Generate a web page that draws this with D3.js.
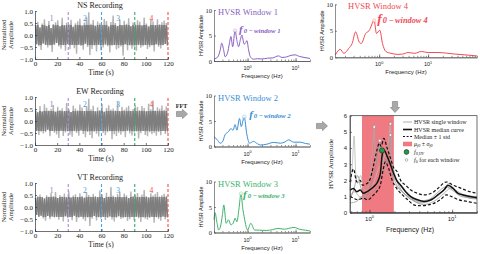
<!DOCTYPE html>
<html>
<head>
<meta charset="utf-8">
<script src="https://cdn.jsdelivr.net/npm/d3@7"></script>
<style>
  body { margin: 0; background: #fff; }
  svg { display: block; }
</style>
</head>
<body>
<svg id="chart" width="480" height="254"></svg>
<script>
// ---- recordings (normalized amplitude, one value per second) ----
const nsRecord = [
  0.42,-0.38,0.55,-0.47,0.31,-0.62,0.48,-0.35,0.66,-0.41,
  0.37,-0.52,0.58,-0.44,0.29,-0.71,0.46,-0.39,0.53,-0.33,
  0.61,-0.48,0.36,-0.57,0.72,-0.43,0.40,-0.66,0.51,-0.37,
  0.45,-0.59,0.63,-0.42,0.34,-0.55,0.49,-0.78,0.57,-0.40,
  0.68,-0.46,0.39,-0.61,0.52,-0.36,0.74,-0.50,0.95,-0.83,
  0.47,-0.58,0.62,-0.44,0.38,-0.69,0.56,-0.41,0.49,-0.64,
  0.43,-0.52,0.67,-0.39,0.58,-0.47,0.35,-0.73,0.54,-0.45,
  0.81,-0.42,0.50,-0.60,0.37,-0.55,0.64,-0.48,0.41,-0.86,
  0.59,-0.38,0.47,-0.63,0.70,-0.44,0.36,-0.57,0.52,-0.49,
  0.44,-0.66,0.61,-0.40,0.55,-0.53,0.39,-0.47,0.73,-0.42,
  0.48,-0.58,0.35,-0.51,0.62,-0.44,0.57,-0.69,0.41,-0.38,
  0.66,-0.49,0.45,-0.56,0.53,-0.43,0.60,-0.37,0.50,-0.46
]
const ewRecord = [
  0.48,-0.41,0.36,-0.58,0.62,-0.45,0.39,-0.52,0.70,-0.47,
  0.55,-0.36,0.44,-0.63,0.51,-0.42,0.67,-0.49,0.38,-0.56,
  0.59,-0.71,0.46,-0.40,0.53,-0.62,0.41,-0.48,0.75,-0.44,
  0.50,-0.57,0.37,-0.66,0.64,-0.43,0.52,-0.50,0.45,-0.61,
  0.69,-0.39,0.56,-0.54,0.42,-0.68,0.60,-0.46,0.93,-0.58,
  0.49,-0.72,0.63,-0.45,0.40,-0.53,0.57,-0.64,0.46,-0.41,
  0.71,-0.50,0.38,-0.59,0.54,-0.47,0.65,-0.43,0.48,-0.76,
  0.52,-0.55,0.44,-0.62,0.80,-0.49,0.41,-0.57,0.59,-0.45,
  0.47,-0.68,0.56,-0.40,0.63,-0.52,0.43,-0.60,0.50,-0.48,
  0.66,-0.44,0.58,-0.73,0.45,-0.51,0.62,-0.42,0.54,-0.58,
  0.40,-0.63,0.72,-0.47,0.49,-0.55,0.85,-0.50,0.44,-0.61,
  0.57,-0.46,0.51,-0.59,0.64,-0.42,0.47,-0.54,0.60,-0.49
]
const vtRecord = [
  0.38,-0.33,0.45,-0.40,0.52,-0.36,0.41,-0.48,0.35,-0.57,
  0.49,-0.37,0.43,-0.51,0.58,-0.39,0.46,-0.44,0.62,-0.41,
  0.37,-0.53,0.50,-0.42,0.44,-0.60,0.56,-0.38,0.40,-0.47,
  0.65,-0.43,0.39,-0.55,0.48,-0.36,0.53,-0.62,0.42,-0.45,
  0.57,-0.40,0.47,-0.51,0.38,-0.58,0.61,-0.44,0.50,-0.79,
  0.43,-0.49,0.55,-0.37,0.46,-0.56,0.41,-0.43,0.69,-0.48,
  0.52,-0.41,0.37,-0.54,0.59,-0.46,0.44,-0.39,0.83,-0.52,
  0.48,-0.60,0.42,-0.45,0.54,-0.38,0.63,-0.50,0.40,-0.47,
  0.56,-0.43,0.49,-0.58,0.37,-0.51,0.64,-0.42,0.46,-0.55,
  0.51,-0.40,0.58,-0.47,0.43,-0.62,0.52,-0.44,0.71,-0.49,
  0.45,-0.53,0.39,-0.46,0.57,-0.41,0.48,-0.66,0.54,-0.43,
  0.62,-0.50,0.44,-0.57,0.49,-0.39,0.55,-0.52,0.47,-0.45
]
const timeTicks = [0, 20, 40, 60, 80, 100, 120]
const ampTicks = [-1, -0.5, 0, 0.5, 1]
const windowEdges = [30, 60, 90, 120]
const windowNames = ['1', '2', '3', '4']

// ---- HVSR of each window ----
const w1Freq = [0.2,0.24,0.27,0.29,0.32,0.34,0.38,0.42,0.45,0.49,0.55,0.6,0.65,0.71,0.76,0.8,0.85,0.92,0.97,1.05,1.14,1.33,1.6,2,2.6,3.3,4.4,5.2,6.5,8,9.8,12,15,20]
const w1Amp  = [0.4,0.8,2.2,3.5,2.0,0.85,1.5,3.5,4.8,2.8,5.95,4.0,2.8,4.2,5.1,4.3,3.3,3.6,4.0,2.2,0.85,0.35,0.45,0.4,0.55,0.6,1.0,0.7,0.8,1.1,1.2,0.9,0.7,0.5]
const w2Freq = [0.2,0.23,0.27,0.3,0.34,0.4,0.45,0.5,0.55,0.6,0.68,0.74,0.85,0.97,1.1,1.33,1.6,1.84,2.5,3.5,4.9,6,7.2,9.1,12.5,16,20]
const w2Amp  = [1.9,1.4,0.65,0.9,2.3,2.9,3.5,3.2,4.3,3.2,5.5,3.9,5.8,2.3,0.65,1.0,0.55,0.3,0.45,0.8,0.65,0.9,1.3,0.85,0.85,0.6,0.45]
const w3Freq = [0.2,0.21,0.23,0.25,0.27,0.3,0.32,0.36,0.4,0.45,0.5,0.55,0.6,0.66,0.73,0.8,0.85,0.93,1.0,1.17,1.4,1.8,2.5,3.3,4.3,5.8,7.2,9.3,12,16,20]
const w3Amp  = [2.5,3.9,2.0,0.5,1.0,3.5,5.4,1.8,2.5,1.5,1.8,2.8,2.1,4.5,7.6,4.5,3.1,1.2,0.5,1.8,0.5,0.45,0.4,0.55,0.8,0.65,0.8,1.0,0.65,0.45,0.3]
const w4Freq = [0.127,0.16,0.19,0.24,0.28,0.33,0.39,0.43,0.53,0.62,0.79,0.88,1.03,1.17,1.37,1.75,2.4,3.0,3.9,5.3,7.3,10,16,36,68,100]
const w4Amp  = [0.45,1.5,0.75,1.7,2.6,4.8,2.9,2.6,4.5,5.0,6.9,4.5,5.1,2.6,1.1,0.75,0.55,0.6,0.9,0.75,1.1,0.9,0.9,0.6,0.4,0.25]

// ---- combined HVSR ----
const s1Freq = [0.58,0.65,0.75,0.85,0.95,1.05,1.1,1.14,1.18,1.25,1.35,1.45,1.6,1.8,2.0,2.4,3.0,4,5,6.5,8,9,11,14,20]
const s1Amp  = [1.0,1.3,1.0,0.9,1.5,3.0,4.5,5.3,3.0,3.5,4.2,3.3,2.5,2.2,1.8,1.4,0.9,0.7,0.8,1.0,1.4,1.8,1.3,1.1,1.0]
const s2Freq = [0.58,0.65,0.72,0.78,0.85,0.95,1.05,1.2,1.33,1.45,1.6,1.79,1.9,2.1,2.5,3,4,5,6.5,8.5,10,13,20]
const s2Amp  = [0.8,1.5,2.3,1.6,1.2,1.1,1.8,3.0,4.45,3.6,3.2,3.0,2.4,2.0,1.3,1.0,0.6,0.7,1.2,1.6,1.4,1.0,0.9]
const s3Freq = [0.58,0.62,0.65,0.68,0.72,0.78,0.85,1.0,1.15,1.3,1.45,1.6,1.72,1.79,1.85,2.0,2.3,2.8,3.5,4.5,6,7.5,9,11,15,20]
const s3Amp  = [1.5,3.0,4.75,2.5,1.8,2.3,1.5,1.3,2.0,2.8,3.2,4.0,4.6,5.5,3.5,2.5,1.8,1.2,0.8,0.6,0.9,1.3,1.6,1.4,1.0,0.9]
const s4Freq = [0.58,0.7,0.8,0.95,1.1,1.3,1.5,1.7,1.79,1.9,2.2,2.6,3.5,4.5,6,8,9.5,12,16,20]
const s4Amp  = [0.6,0.7,1.0,0.8,1.2,2.0,2.8,3.5,4.8,2.5,1.6,1.2,0.7,0.5,0.7,1.2,1.5,1.2,0.9,0.85]
const medFreq = [0.58,0.64,0.70,0.77,0.84,0.97,1.12,1.25,1.35,1.42,1.49,1.63,1.8,1.97,2.13,2.38,2.74,3.16,3.8,4.6,5.6,6.7,8.1,8.9,10.3,11.8,13.6,16.4,20]
const medAmp  = [1.4,1.5,1.3,1.4,1.2,1.35,1.6,1.9,2.4,3.55,3.9,3.5,2.95,2.4,2.0,1.7,1.3,1.0,0.8,0.7,0.8,1.1,1.45,1.7,1.5,1.2,1.1,1.0,0.93]
const upFreq = [0.58,0.64,0.70,0.77,0.82,0.93,1.02,1.12,1.22,1.31,1.38,1.49,1.63,1.8,1.97,2.15,2.38,2.74,3.16,3.8,4.6,5.6,6.7,8.5,10.3,13,16.4,20]
const upAmp  = [1.9,2.7,1.9,2.0,1.7,1.8,2.1,2.95,3.8,4.3,4.1,4.6,4.0,3.35,2.75,2.55,2.0,1.7,1.4,1.2,1.1,1.2,1.5,1.9,1.7,1.5,1.3,1.2]
const loFreq = [0.58,0.64,0.72,0.84,0.95,1.12,1.22,1.35,1.45,1.55,1.7,1.88,2.13,2.5,2.9,3.5,4.2,5.0,6.0,7.2,8.5,9.8,12,15,20]
const loAmp  = [1.0,0.9,0.8,0.9,0.8,1.1,1.3,1.7,2.55,3.15,2.75,2.0,1.5,1.1,0.8,0.47,0.43,0.47,0.58,0.8,1.1,1.0,0.8,0.7,0.58]
const peakFreq = [1.14, 1.33, 1.79, 1.79]
const peakAmp  = [5.3, 4.45, 5.5, 4.8]
const f0Median = [1.42, 3.85]
const f0Band = [0.81, 1.97]

const serif = '"Liberation Serif","Times New Roman",serif'
const sans = '"Liberation Sans",Arial,sans-serif'
const svg = d3.select('#chart')
const defs = svg.append('defs')

const zip = (fs, as) => fs.map((f, i) => [f, as[i]])

function blockArrow(cx, cy, dir) {
  const pts = [[-5.5,-2.6],[0.5,-2.6],[0.5,-4.6],[5.5,0],[0.5,4.6],[0.5,2.6],[-5.5,2.6]]
  const p = dir === 'down' ? pts.map(([a, b]) => [b, a]) : pts
  svg.append('polygon')
    .attr('points', p.map(([a, b]) => [cx + a, cy + b].join(',')).join(' '))
    .attr('fill', '#a8a8a8').attr('stroke', '#7c7c7c').attr('stroke-width', 0.6)
}

// ---------- left column: recordings ----------
function drawRecord(title, vals, top, id) {
  const x = d3.scaleLinear().domain([0, 120]).range([35, 168])
  const y = d3.scaleLinear().domain([-1, 1]).range([top + 48, top])
  const g = svg.append('g')
  const sig = d3.line().x((d, i) => x(i + 0.5)).y(d => y(d))

  // dense core of the record drawn darker than the spikes
  defs.append('clipPath').attr('id', id)
    .append('rect').attr('x', 30).attr('width', 145).attr('y', y(0.42)).attr('height', y(-0.42) - y(0.42))

  g.append('path').datum(vals).attr('d', sig)
    .attr('fill', 'none').attr('stroke', '#b4b4b4').attr('stroke-width', 1.4)
  g.append('path').datum(vals).attr('d', sig).attr('clip-path', `url(#${id})`)
    .attr('fill', 'none').attr('stroke', '#7e7e7e').attr('stroke-width', 1.4)

  const edgeCols = ['#a88bd6', '#4aa3e6', '#3aa86c', '#ee5050']
  const nameCols = ['#9474c8', '#3b9be0', '#3b9be0', '#e84848']
  windowEdges.forEach((t, k) => {
    g.append('line')
      .attr('x1', x(t)).attr('x2', x(t)).attr('y1', top + 1).attr('y2', top + 50)
      .attr('stroke', edgeCols[k]).attr('stroke-width', 1.1).attr('stroke-dasharray', '3,2')
    g.append('text').attr('x', x(t - 15)).attr('y', top + 10)
      .attr('text-anchor', 'middle').attr('font-family', serif).attr('font-size', 7.5)
      .attr('fill', nameCols[k]).text(windowNames[k])
  })

  const xa = g.append('g').attr('transform', `translate(0,${top + 48})`)
    .call(d3.axisBottom(x).tickValues(timeTicks).tickSizeInner(-2).tickSizeOuter(0).tickPadding(2))
  const ya = g.append('g').attr('transform', 'translate(35,0)')
    .call(d3.axisLeft(y).tickValues(ampTicks).tickFormat(d3.format('.1f')).tickSizeInner(-2).tickSizeOuter(0).tickPadding(2))
  ;[xa, ya].forEach(a => {
    a.selectAll('text').attr('font-family', serif).attr('font-size', 7).attr('fill', '#222')
    a.selectAll('line,path').attr('stroke', '#333').attr('stroke-width', 0.7)
  })

  g.append('text').attr('x', 100).attr('y', top - 3).attr('text-anchor', 'middle')
    .attr('font-family', serif).attr('font-size', 8).attr('fill', '#222').text(title)
  g.append('text').attr('x', 101).attr('y', top + 64).attr('text-anchor', 'middle')
    .attr('font-family', serif).attr('font-size', 7.5).attr('fill', '#222').text('Time (s)')
  const yl = g.append('text').attr('transform', `translate(6,${top + 24}) rotate(-90)`)
    .attr('text-anchor', 'middle').attr('font-family', serif).attr('font-size', 6.5).attr('fill', '#222')
  yl.append('tspan').attr('x', 0).attr('dy', 0).text('Normalized')
  yl.append('tspan').attr('x', 0).attr('dy', 7).text('Amplitude')
}

drawRecord('NS Recording', nsRecord, 11, 'coreNS')
drawRecord('EW Recording', ewRecord, 97, 'coreEW')
drawRecord('VT Recording', vtRecord, 183, 'coreVT')

// ---------- HVSR window panels ----------
function drawWindow(p, freqs, amps, color, k) {
  const x = d3.scaleLog().domain(p.dom).range([p.x0, p.x1])
  const y = d3.scaleLinear().domain([0, 10]).range([p.yb, p.yt])
  const g = svg.append('g')
  const pts = zip(freqs, amps)

  g.append('path').datum(pts)
    .attr('d', d3.line().x(d => x(d[0])).y(d => y(d[1])).curve(d3.curveMonotoneX))
    .attr('fill', 'none').attr('stroke', color).attr('stroke-width', 1)

  const pk = pts.reduce((a, b) => (b[1] > a[1] ? b : a))
  g.append('circle').attr('cx', x(pk[0])).attr('cy', y(pk[1])).attr('r', 1.8)
    .attr('fill', '#fff').attr('fill-opacity', 0.6).attr('stroke', color).attr('stroke-opacity', 0.5).attr('stroke-width', 0.6)

  const lab = g.append('text').attr('x', x(pk[0]) + p.lx).attr('y', y(pk[1]) + p.ly)
    .attr('font-family', serif).attr('font-weight', 'bold').attr('font-style', 'italic').attr('fill', color)
  lab.append('tspan').attr('font-size', 11 * p.ls).text('f')
  lab.append('tspan').attr('font-size', 6.8 * p.ls).attr('dx', 1).attr('dy', 0.5).text('0\u2009\u2212\u2009window ' + k)

  g.append('text').attr('x', p.tx).attr('y', p.yt + p.ty).attr('font-family', serif)
    .attr('font-size', 8.5).attr('fill', color).text('HVSR Window ' + k)

  const minor = g.append('g').attr('transform', `translate(0,${p.yb})`)
    .call(d3.axisBottom(x).tickValues(x.ticks()).tickFormat('').tickSizeInner(-1.5).tickSizeOuter(0))
  const xa = g.append('g').attr('transform', `translate(0,${p.yb})`)
    .call(d3.axisBottom(x).tickValues(p.major).tickFormat('').tickSizeInner(-3).tickSizeOuter(0))
  const ya = g.append('g').attr('transform', `translate(${p.x0},0)`)
    .call(d3.axisLeft(y).tickValues([0, 5, 10]).tickSizeInner(-2).tickSizeOuter(0).tickPadding(2))
  ;[minor, xa, ya].forEach(a => a.selectAll('line,path').attr('stroke', '#444').attr('stroke-width', 0.6))
  ya.selectAll('text').attr('font-family', serif).attr('font-size', 6.5).attr('fill', '#222')

  p.major.forEach(v => {
    const t = g.append('text').attr('x', x(v)).attr('y', p.yb + 9).attr('text-anchor', 'middle')
      .attr('font-family', sans).attr('font-size', 5.5).attr('fill', '#222')
    t.append('tspan').text('10')
    t.append('tspan').attr('font-size', 3.8).attr('dy', -2.5).text(Math.round(Math.log10(v)))
  })
  g.append('text').attr('x', (p.x0 + p.x1) / 2).attr('y', p.yb + 17).attr('text-anchor', 'middle')
    .attr('font-family', sans).attr('font-size', 6).attr('fill', '#222').text('Frequency (Hz)')
  g.append('text').attr('transform', `translate(${p.x0 - 11},${(p.yb + p.yt) / 2}) rotate(-90)`)
    .attr('text-anchor', 'middle').attr('font-family', sans).attr('font-size', 5.5).attr('fill', '#222')
    .text('HVSR Amplitude')
}

const midPanel = (yb, yt, lx, ly) => ({ dom: [0.2, 20], x0: 214, x1: 310, yb, yt, major: [1, 10], tx: 218, ty: 5, lx, ly, ls: 1 })
drawWindow(midPanel(61, 10, 4, 2), w1Freq, w1Amp, '#8a5fc2', 1)
drawWindow(midPanel(146.5, 95.5, 5, 1), w2Freq, w2Amp, '#3a8fd6', 2)
drawWindow(midPanel(232.5, 181.5, 2, 4), w3Freq, w3Amp, '#3db36a', 3)
drawWindow({ dom: [0.125, 100], x0: 335, x1: 477, yb: 57.3, yt: 4.3, major: [1, 10], tx: 348, ty: 5, lx: 3, ly: 2, ls: 1.22 },
  w4Freq, w4Amp, '#f04a55', 4)

// ---------- combined HVSR ----------
{
  const x = d3.scaleLog().domain([0.58, 20]).range([350, 477])
  const y = d3.scaleLinear().domain([0, 6]).range([212.7, 115.7])
  const g = svg.append('g')
  const line = d3.line().x(d => x(d[0])).y(d => y(d[1])).curve(d3.curveMonotoneX)

  g.append('rect').attr('x', x(f0Band[0])).attr('y', 115.7)
    .attr('width', x(f0Band[1]) - x(f0Band[0])).attr('height', 97)
    .attr('fill', '#f07a82')

  const singles = [[s1Freq, s1Amp], [s2Freq, s2Amp], [s3Freq, s3Amp], [s4Freq, s4Amp]]
  const greys = ['#a9a9a9', '#8f8f8f', '#b8b8b8', '#9d9d9d']
  singles.forEach(([f, a], i) => {
    g.append('path').datum(zip(f, a)).attr('d', line)
      .attr('fill', 'none').attr('stroke', greys[i]).attr('stroke-width', 0.8)
  })
  ;[[upFreq, upAmp], [loFreq, loAmp]].forEach(([f, a]) => {
    g.append('path').datum(zip(f, a)).attr('d', line)
      .attr('fill', 'none').attr('stroke', '#111').attr('stroke-width', 1.2).attr('stroke-dasharray', '3,2')
  })
  g.append('path').datum(zip(medFreq, medAmp)).attr('d', line)
    .attr('fill', 'none').attr('stroke', '#111').attr('stroke-width', 1.5)

  peakFreq.forEach((f, i) => {
    g.append('circle').attr('cx', x(f)).attr('cy', y(peakAmp[i])).attr('r', 1.4)
      .attr('fill', '#fff').attr('stroke', '#777').attr('stroke-width', 0.5)
  })
  g.append('circle').attr('cx', x(f0Median[0])).attr('cy', y(f0Median[1])).attr('r', 2.6)
    .attr('fill', '#1f9a45').attr('stroke', '#222').attr('stroke-width', 0.6)

  g.append('rect').attr('x', 350).attr('y', 115.7).attr('width', 127).attr('height', 97)
    .attr('fill', 'none').attr('stroke', '#333').attr('stroke-width', 0.7)

  const minor = g.append('g').attr('transform', 'translate(0,212.7)')
    .call(d3.axisBottom(x).tickValues(x.ticks()).tickFormat('').tickSizeInner(-1.5).tickSizeOuter(0))
  const xa = g.append('g').attr('transform', 'translate(0,212.7)')
    .call(d3.axisBottom(x).tickValues([1, 10]).tickFormat('').tickSizeInner(-3).tickSizeOuter(0))
  const ya = g.append('g').attr('transform', 'translate(350,0)')
    .call(d3.axisLeft(y).tickValues(d3.range(0, 7)).tickFormat(d3.format('d')).tickSizeInner(-2).tickSizeOuter(0).tickPadding(3))
  ;[minor, xa, ya].forEach(a => a.selectAll('line,path').attr('stroke', '#333').attr('stroke-width', 0.6))
  ya.selectAll('text').attr('font-family', sans).attr('font-size', 6).attr('fill', '#222')

  ;[1, 10].forEach(v => {
    const t = g.append('text').attr('x', x(v)).attr('y', 221).attr('text-anchor', 'middle')
      .attr('font-family', sans).attr('font-size', 6).attr('fill', '#222')
    t.append('tspan').text('10')
    t.append('tspan').attr('font-size', 4).attr('dy', -2.6).text(Math.round(Math.log10(v)))
  })
  g.append('text').attr('x', 410).attr('y', 232).attr('text-anchor', 'middle')
    .attr('font-family', sans).attr('font-size', 7).attr('fill', '#222').text('Frequency (Hz)')
  g.append('text').attr('transform', 'translate(333,164) rotate(-90)').attr('text-anchor', 'middle')
    .attr('font-family', serif).attr('font-size', 7).attr('fill', '#222').text('HVSR Amplitude')

  // legend
  const lx = 403, tx = 414
  const rows = [122, 129.5, 136.5, 144, 152, 160]
  const lg = g.append('g').attr('font-family', serif).attr('font-size', 6).attr('fill', '#222')
  lg.append('line').attr('x1', lx).attr('x2', lx + 9).attr('y1', rows[0]).attr('y2', rows[0])
    .attr('stroke', '#999').attr('stroke-width', 0.8)
  lg.append('line').attr('x1', lx).attr('x2', lx + 9).attr('y1', rows[1]).attr('y2', rows[1])
    .attr('stroke', '#111').attr('stroke-width', 1.6)
  lg.append('line').attr('x1', lx).attr('x2', lx + 9).attr('y1', rows[2]).attr('y2', rows[2])
    .attr('stroke', '#111').attr('stroke-width', 1.2).attr('stroke-dasharray', '2,1.6')
  lg.append('rect').attr('x', lx).attr('y', rows[3] - 2.3).attr('width', 9).attr('height', 4.6).attr('fill', '#f07a82')
  lg.append('circle').attr('cx', lx + 3.5).attr('cy', rows[4]).attr('r', 2.4)
    .attr('fill', '#1f9a45').attr('stroke', '#222').attr('stroke-width', 0.6)
  lg.append('circle').attr('cx', lx + 3.5).attr('cy', rows[5]).attr('r', 1.3)
    .attr('fill', '#fff').attr('stroke', '#777').attr('stroke-width', 0.5)

  const txt = i => lg.append('text').attr('x', tx).attr('y', rows[i] + 2)
  txt(0).text('HVSR single window')
  txt(1).text('HVSR median curve')
  txt(2).text('Median \u00b1 1 std')
  const t3 = txt(3).attr('font-style', 'italic')
  t3.append('tspan').text('\u03bc')
  t3.append('tspan').attr('font-size', 4).attr('dy', 1.2).text('f0')
  t3.append('tspan').attr('dy', -1.2).attr('font-style', 'normal').text(' \u00b1 ')
  t3.append('tspan').text('\u03c3')
  t3.append('tspan').attr('font-size', 4).attr('dy', 1.2).text('f0')
  const t4 = txt(4).attr('font-style', 'italic')
  t4.append('tspan').text('f')
  t4.append('tspan').attr('font-size', 4).attr('dy', 1.2).text('0,HV')
  const t5 = txt(5)
  t5.append('tspan').attr('font-style', 'italic').text('f')
  t5.append('tspan').attr('font-size', 4).attr('dy', 1.2).text('0')
  t5.append('tspan').attr('dy', -1.2).text(' for each window')
}

// ---------- arrows ----------
svg.append('text').attr('x', 181.5).attr('y', 108).attr('text-anchor', 'middle')
  .attr('font-family', serif).attr('font-weight', 'bold').attr('font-size', 6).attr('fill', '#222').text('FFT')
blockArrow(182, 114, 'right')
blockArrow(322, 126, 'right')
blockArrow(395, 107, 'down')
</script>
</body>
</html>
